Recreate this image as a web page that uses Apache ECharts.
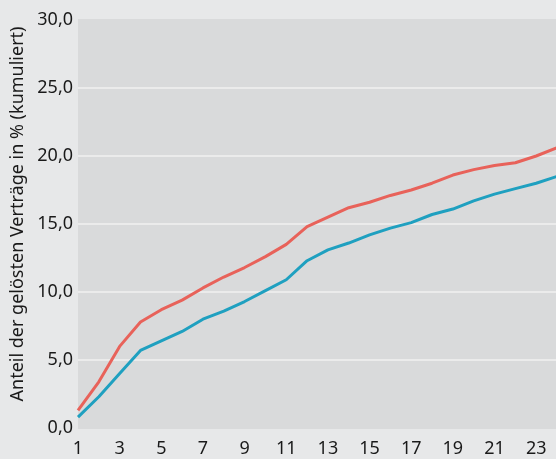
<!DOCTYPE html>
<html>
<head>
<meta charset="utf-8">
<script src="https://cdn.jsdelivr.net/npm/echarts@6/dist/echarts.min.js"></script>
<style>
  html, body { margin: 0; padding: 0; background: #e7e8e9; }
  #chart { width: 556px; height: 459px; }
</style>
</head>
<body>
<div id="chart"></div>
<script>
// Months 1..24
const months = [];
for (let m = 1; m <= 24; m++) months.push(String(m));

const redSeries = [1.3, 3.4, 6.0, 7.8, 8.7, 9.4, 10.3, 11.1, 11.8, 12.6, 13.5, 14.8,
    15.5, 16.2, 16.6, 17.1, 17.5, 18.0, 18.6, 19.0, 19.3, 19.5, 20.0, 20.6];
const blueSeries = [0.8, 2.3, 4.0, 5.7, 6.4, 7.1, 8.0, 8.6, 9.3, 10.1, 10.9, 12.3,
    13.1, 13.6, 14.2, 14.7, 15.1, 15.7, 16.1, 16.7, 17.2, 17.6, 18.0, 18.5];

const yTicks = [0, 5, 10, 15, 20, 25, 30];

const chart = echarts.init(document.getElementById('chart'), null, { renderer: 'canvas' });

const fontFamily = '"Noto Sans", sans-serif';

const option = {
    backgroundColor: '#e7e8e9',
    animation: false,
    grid: {
        left: 78,
        right: -1,
        top: 20,
        bottom: 31,
        outerBoundsMode: 'none',
        containLabel: false,
        show: true,
        backgroundColor: '#d9dadb',
        borderWidth: 0
    },
    xAxis: {
        type: 'category',
        data: months,
        boundaryGap: false,
        axisLine: { show: false },
        axisTick: { show: false },
        axisLabel: {
            interval: 1,
            margin: 12,
            color: '#1a1a1a',
            fontSize: 18,
            fontFamily: fontFamily
        }
    },
    yAxis: {
        type: 'value',
        min: yTicks[0],
        max: yTicks[yTicks.length - 1],
        interval: 5,
        name: 'Anteil der gelösten Verträge in % (kumuliert)',
        nameLocation: 'middle',
        nameGap: 51,
        nameTextStyle: {
            color: '#1a1a1a',
            fontSize: 18,
            fontFamily: fontFamily,
            padding: [0, 0, 0, 20]
        },
        axisLine: { show: false },
        axisTick: { show: false },
        axisLabel: {
            margin: 5,
            color: '#1a1a1a',
            fontSize: 18,
            fontFamily: fontFamily,
            formatter: function (v) {
                return v.toFixed(1).replace('.', ',');
            }
        },
        splitLine: {
            lineStyle: {
                color: ['#d9dadb', '#ebebeb', '#ebebeb', '#ebebeb', '#ebebeb', '#ebebeb', '#d9dadb'],
                width: 2
            }
        }
    },
    series: [
        {
            name: 'rot',
            type: 'line',
            data: redSeries,
            symbol: 'none',
            lineStyle: { color: '#e8625a', width: 3 }
        },
        {
            name: 'blau',
            type: 'line',
            data: blueSeries,
            symbol: 'none',
            lineStyle: { color: '#1fa0c0', width: 3 }
        }
    ]
};

chart.setOption(option);
</script>
</body>
</html>
